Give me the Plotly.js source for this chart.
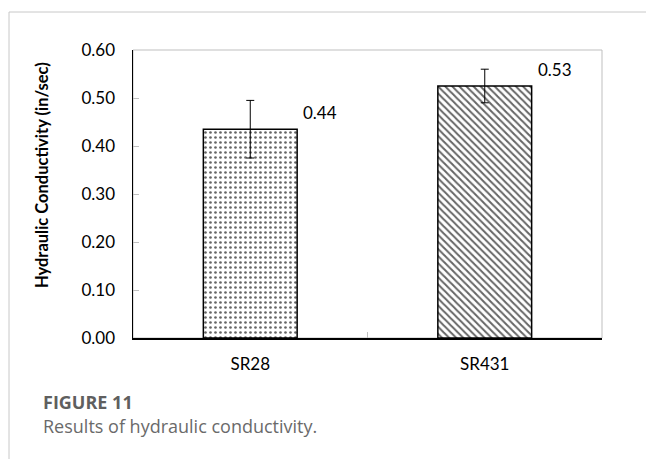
<!DOCTYPE html>
<html>
<head>
<meta charset="utf-8">
<script src="https://cdn.plot.ly/plotly-3.0.1.min.js"></script>
<style>html,body{margin:0;padding:0;background:#fff;}#chart{width:646px;height:459px;}</style>
</head>
<body>
<div id="chart"></div>
<script>
const categories = ["SR28", "SR431"];
const conductivity = [0.435, 0.525];
const errors = [0.06, 0.035];
const valueLabels = ["0.44", "0.53"];
const patterns = [".", "\\"];
const yTickVals = [0, 0.1, 0.2, 0.3, 0.4, 0.5, 0.6];
const yTickText = ["0.00", "0.10", "0.20", "0.30", "0.40", "0.50", "0.60"];

const W = 646, H = 459;
const M = {l: 133, r: 44, t: 50, b: 121};
const pw = W - M.l - M.r, ph = H - M.t - M.b;
const px = x => (x - M.l) / pw;
const py = y => (H - M.b - y) / ph;

const font = "Lato, 'Open Sans', sans-serif";
const capFont = "'Open Sans', sans-serif";

const trace = {
  type: "bar",
  x: categories,
  y: conductivity,
  width: 0.4,
  marker: {
    color: "#ffffff",
    line: {color: "#000000", width: 1.5},
    pattern: {shape: patterns, fgcolor: "#666666", bgcolor: "#ffffff", size: [5, 5], solidity: [0.22, 0.4]}
  },
  error_y: {type: "data", array: errors, visible: true, color: "#000000", thickness: 1, width: 4},
  hoverinfo: "none"
};

const annotations = categories.map((c, i) => ({
  x: c, y: conductivity[i], xref: "x", yref: "y",
  text: valueLabels[i], showarrow: false,
  xshift: 70, yshift: 17,
  font: {family: font, size: 17, color: "#000"}
}));

annotations.push({
  xref: "paper", yref: "paper", x: px(42), y: py(175), xanchor: "center", yanchor: "middle",
  text: "<b>Hydraulic Conductivity (in/sec)</b>", showarrow: false, textangle: -90,
  font: {family: font, size: 16.5, color: "#000"}
});
annotations.push({
  xref: "paper", yref: "paper", x: px(41), y: py(402), xanchor: "left", yanchor: "middle",
  text: "<b>FIGURE 11</b>", showarrow: false,
  font: {family: capFont, size: 18, color: "#5f5f5f"}
});
annotations.push({
  xref: "paper", yref: "paper", x: px(41), y: py(426), xanchor: "left", yanchor: "middle",
  text: "Results of hydraulic conductivity.", showarrow: false,
  font: {family: capFont, size: 18, color: "#6a6a6a"}
});

const shapes = [
  {type: "line", xref: "paper", yref: "paper", x0: px(9), x1: px(646), y0: py(12), y1: py(12), line: {color: "#c8c8c8", width: 1}},
  {type: "line", xref: "paper", yref: "paper", x0: px(9), x1: px(9), y0: py(12), y1: py(459), line: {color: "#c8c8c8", width: 1}},
  {type: "rect", xref: "paper", yref: "paper", x0: 0, x1: 1, y0: 0, y1: 1, line: {color: "#bfbfbf", width: 1}, layer: "below"}
];

const layout = {
  width: W, height: H,
  margin: M,
  paper_bgcolor: "#ffffff", plot_bgcolor: "#ffffff",
  showlegend: false,
  font: {family: font, size: 17, color: "#000"},
  xaxis: {
    type: "category", tickson: "boundaries", ticks: "inside", ticklen: 6, tickcolor: "#bfbfbf",
    showline: true, linecolor: "#000", linewidth: 1.5, showgrid: false, zeroline: false,
    tickfont: {family: font, size: 17, color: "#000"}, ticklabelstandoff: 10,
    range: [-0.5, 1.5], fixedrange: true
  },
  yaxis: {
    range: [0, 0.6], tickvals: yTickVals, ticktext: yTickText,
    ticks: "inside", ticklen: 6, tickcolor: "#bfbfbf",
    showline: true, linecolor: "#000", linewidth: 1.5, showgrid: false, zeroline: false,
    tickfont: {family: font, size: 17, color: "#000"}, ticklabelstandoff: 13,
    fixedrange: true
  },
  annotations: annotations,
  shapes: shapes
};

Plotly.newPlot("chart", [trace], layout, {displayModeBar: false, staticPlot: true});
</script>
</body>
</html>
